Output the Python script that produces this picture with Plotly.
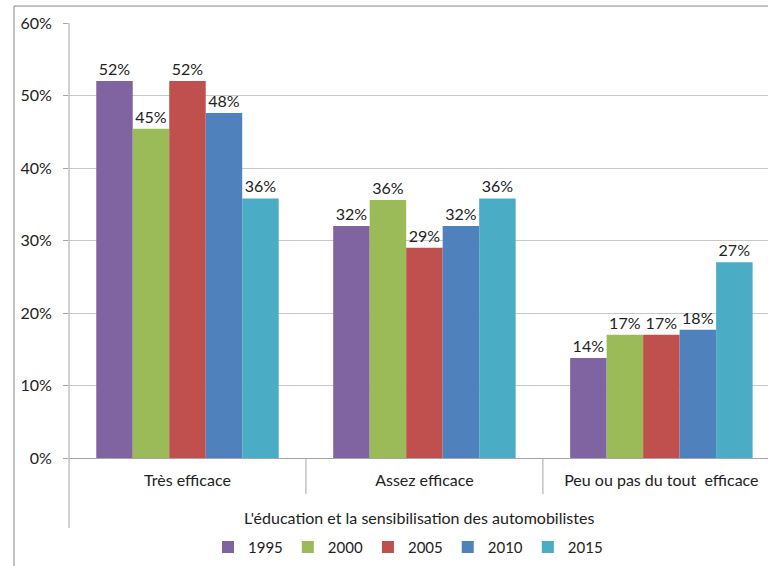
import plotly.graph_objects as go

categories = ["Très efficace", "Assez efficace", "Peu ou pas du tout  efficace"]
years = ["1995", "2000", "2005", "2010", "2015"]
values = {
    "1995": [0.52, 0.32, 0.138],
    "2000": [0.454, 0.356, 0.17],
    "2005": [0.52, 0.29, 0.17],
    "2010": [0.476, 0.32, 0.177],
    "2015": [0.358, 0.358, 0.27],
}
colors = ["#8064A2", "#9BBB59", "#C0504D", "#4F81BD", "#4BACC6"]

font_name = "Lato"
font_size = 16

fig = go.Figure()
for year, color in zip(years, colors):
    fig.add_trace(go.Bar(
        x=categories,
        y=values[year],
        name=year,
        marker=dict(color=color, line=dict(width=0)),
        texttemplate="%{y:.0%}",
        textposition="outside",
        textfont=dict(family=font_name, size=font_size, color="#222"),
        cliponaxis=False,
    ))

line_gray = "#a6a6a6"
shapes = [
    # y axis line running down through the category area
    dict(type="line", xref="paper", yref="paper", x0=0, x1=0, y0=-0.161, y1=1,
         line=dict(color=line_gray, width=1)),
    # outer frame
    dict(type="line", xref="paper", yref="paper", x0=-0.0787, x1=-0.0787, y0=-0.26, y1=1.039,
         line=dict(color="#888", width=1)),
    dict(type="line", xref="paper", yref="paper", x0=-0.0787, x1=1.05, y0=1.039, y1=1.039,
         line=dict(color="#888", width=1)),
]
for pos in [0.5, 1.5]:
    shapes.append(dict(type="line", xref="x", yref="paper", x0=pos, x1=pos, y0=-0.083, y1=0,
                       line=dict(color=line_gray, width=1)))

fig.update_layout(
    width=768,
    height=566,
    margin=dict(l=69, r=0, t=23, b=108),
    paper_bgcolor="white",
    plot_bgcolor="white",
    font=dict(family=font_name, size=font_size, color="#222"),
    barmode="group",
    bargap=0.23,
    bargroupgap=0,
    shapes=shapes,
    showlegend=True,
    legend=dict(
        orientation="h",
        x=0.485,
        xanchor="center",
        y=-0.205,
        yanchor="middle",
        font=dict(family=font_name, size=15, color="#222"),
        itemwidth=30,
    ),
    xaxis=dict(
        range=[-0.5, 2.45],
        showline=True,
        linecolor=line_gray,
        ticks="",
        ticklabelstandoff=8,
        automargin=False,
        tickfont=dict(family=font_name, size=font_size, color="#222"),
    ),
    yaxis=dict(
        range=[0, 0.6],
        dtick=0.1,
        tickformat=".0%",
        showgrid=True,
        gridcolor="#c8c8c8",
        ticks="outside",
        ticklen=5,
        tickcolor=line_gray,
        ticklabelstandoff=8,
        showline=False,
        zeroline=False,
        automargin=False,
        tickfont=dict(family=font_name, size=font_size, color="#222"),
    ),
    annotations=[
        dict(text="L'éducation et la sensibilisation des automobilistes",
             xref="paper", yref="paper", x=0.5, y=-0.136,
             xanchor="center", yanchor="middle", showarrow=False,
             font=dict(family=font_name, size=font_size, color="#222")),
    ],
)

fig.write_html("out.html", config={"displayModeBar": False},
               post_script="document.body.style.margin='0';")
